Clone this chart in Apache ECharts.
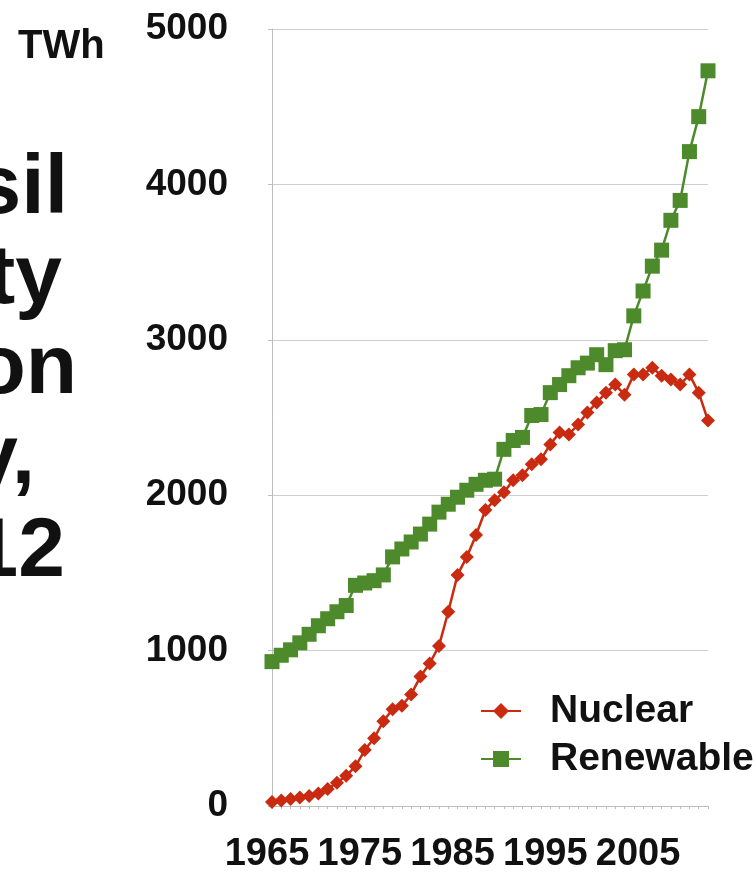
<!DOCTYPE html>
<html>
<head>
<meta charset="utf-8">
<script src="https://cdn.jsdelivr.net/npm/echarts@6/dist/echarts.min.js"></script>
<style>
html,body{margin:0;padding:0;background:#fff;}
#chart{width:754px;height:874px;}
</style>
</head>
<body>
<div id="chart"></div>
<script>
const years = ['1965','1966','1967','1968','1969','1970','1971','1972','1973','1974',
  '1975','1976','1977','1978','1979','1980','1981','1982','1983','1984',
  '1985','1986','1987','1988','1989','1990','1991','1992','1993','1994',
  '1995','1996','1997','1998','1999','2000','2001','2002','2003','2004',
  '2005','2006','2007','2008','2009','2010','2011','2012'];

const nuclear = [25,35,45,55,65,80,110,150,195,255,
  360,436,545,622,645,718,833,917,1030,1250,
  1487,1603,1744,1904,1968,2019,2096,2128,2199,2231,
  2327,2404,2391,2455,2532,2596,2660,2712,2647,2776,
  2776,2820,2769,2744,2712,2776,2660,2480];

const renewable = [929,970,1005,1050,1105,1160,1205,1250,1290,1420,
  1435,1450,1487,1603,1654,1699,1750,1814,1891,1942,
  1987,2032,2070,2096,2103,2295,2352,2372,2513,2519,
  2660,2712,2769,2820,2850,2904,2840,2930,2936,3154,
  3314,3474,3577,3769,3897,4211,4436,4731];

const yTicks = [0,1000,2000,3000,4000,5000];
const unitLabel = 'TWh';
const titleFragments = ['sil','ty','on','y,','12'];
const seriesNames = ['Nuclear','Renewable'];

const FONT = '"Liberation Sans", Arial, Helvetica, sans-serif';
const RED = '#c92a10';
const GREEN = '#4d8a2b';

const chart = echarts.init(document.getElementById('chart'), null, {renderer:'canvas'});

const fragPos = [
  {x:68, y:190},
  {x:62, y:280},
  {x:77, y:370},
  {x:35, y:460},
  {x:65, y:553}
];

const graphics = [
  {type:'text', left:18, top:27, style:{text:unitLabel, font:'bold 40px ' + FONT, fill:'#111'}}
];
titleFragments.forEach((t,i)=>{
  graphics.push({type:'text', x:fragPos[i].x, y:fragPos[i].y,
    style:{text:t, font:'bold 84px ' + FONT, fill:'#111', align:'right', verticalAlign:'middle'}});
});

chart.setOption({
  backgroundColor:'#fff',
  animation:false,
  grid:{left:272, right:46, top:29, bottom:64, containLabel:false},
  legend:{
    data:seriesNames,
    orient:'vertical',
    left:475, top:683,
    itemWidth:40, itemHeight:20, itemGap:2,
    textStyle:{fontFamily:FONT, fontWeight:'bold', fontSize:39, color:'#111', lineHeight:46, padding:[0,0,0,24]}
  },
  xAxis:{
    type:'category',
    data:years,
    boundaryGap:false,
    axisLine:{show:true, lineStyle:{color:'#bdbdbd', width:1}},
    axisTick:{show:true, interval:0, length:3, lineStyle:{color:'#bdbdbd'}},
    axisLabel:{interval:9, margin:30, fontFamily:FONT, fontWeight:'bold', fontSize:38, color:'#111', padding:[0,10,0,0]},
    splitLine:{show:false}
  },
  yAxis:{
    type:'value',
    min:0, max:5000, interval:1000,
    axisLine:{show:true, lineStyle:{color:'#bdbdbd', width:1}},
    axisTick:{show:true, length:4, lineStyle:{color:'#bdbdbd'}},
    axisLabel:{margin:44, fontFamily:FONT, fontWeight:'bold', fontSize:37, color:'#111',
      formatter:(v)=> yTicks.includes(v) ? String(v) : ''},
    splitLine:{show:true, lineStyle:{color:'#cfcfcf', width:1}}
  },
  series:[
    {name:'Renewable', type:'line', data:renewable, symbol:'rect', symbolSize:15, showAllSymbol:true,
      itemStyle:{color:GREEN}, lineStyle:{color:GREEN, width:2.5}},
    {name:'Nuclear', type:'line', data:nuclear, symbol:'diamond', symbolSize:14, showAllSymbol:true,
      itemStyle:{color:RED}, lineStyle:{color:RED, width:2.5}}
  ],
  graphic:graphics
});
</script>
</body>
</html>
